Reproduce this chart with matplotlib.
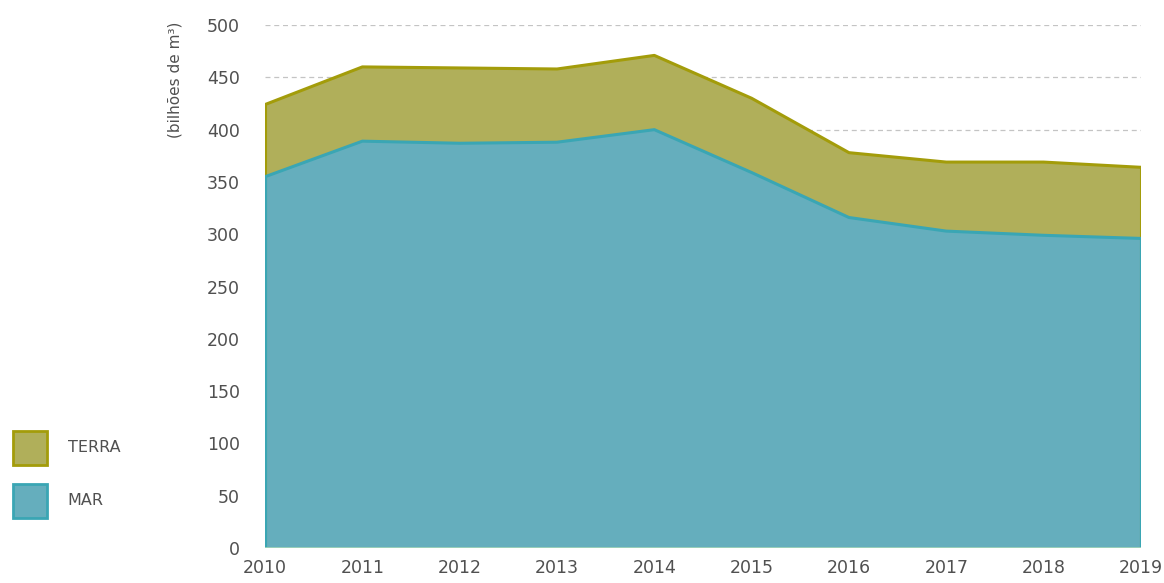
import matplotlib.pyplot as plt
from matplotlib.patches import Rectangle

# Data (bilhões de m³)
years = [2010, 2011, 2012, 2013, 2014, 2015, 2016, 2017, 2018, 2019]
mar = [355, 389, 387, 388, 400, 359, 316, 303, 299, 296]
terra = [69, 71, 72, 70, 71, 71, 62, 66, 70, 68]
yticks = [0, 50, 100, 150, 200, 250, 300, 350, 400, 450, 500]

plt.rcParams['font.family'] = ['DejaVu Sans']
text_color = '#505050'
mar_fill, mar_edge = '#65aebd', '#3aa6b4'
terra_fill, terra_edge = '#b0af5a', '#a39c0a'

fig = plt.figure(figsize=(11.64, 5.83), dpi=100)
ax = fig.add_axes([0.2277, 0.060, 0.7525, 0.897])

top = [m + t for m, t in zip(mar, terra)]
ax.fill_between(years, 0, top, facecolor=terra_fill, edgecolor='none', zorder=2)
ax.fill_between(years, 0, mar, facecolor=mar_fill, edgecolor='none', zorder=3)
ax.plot(years, top, color=terra_edge, lw=2.2, zorder=4)
ax.plot(years, mar, color=mar_edge, lw=2.2, zorder=5)
ax.plot([years[0], years[0]], [0, top[0]], color=terra_edge, lw=2.2, zorder=4)
ax.plot([years[-1], years[-1]], [0, top[-1]], color=terra_edge, lw=2.2, zorder=4)
ax.plot([years[0], years[0]], [0, mar[0]], color=mar_edge, lw=2.2, zorder=5)
ax.plot([years[-1], years[-1]], [0, mar[-1]], color=mar_edge, lw=2.2, zorder=5)
ax.plot([years[0], years[-1]], [0, 0], color='#9fd3b8', lw=2, zorder=6)

ax.set_xlim(years[0], years[-1])
ax.set_ylim(0, 500)
ax.set_xticks(years)
ax.set_yticks(yticks)
ax.grid(axis='y', color='#c4c4c4', linestyle=(0, (4, 3)), lw=0.9, zorder=1)
ax.set_axisbelow(True)
for s in ax.spines.values():
    s.set_visible(False)
ax.tick_params(axis='both', length=0, labelsize=12.5, colors=text_color)
ax.tick_params(axis='y', pad=18)
ax.tick_params(axis='x', pad=8)
ax.set_ylabel('(bilhões de m³)', fontsize=11, color=text_color)
ax.yaxis.set_label_coords(-0.094, 0.895)

# legend at the left
for y0, fc, ec, lab in [(0.203, terra_fill, terra_edge, 'TERRA'),
                        (0.112, mar_fill, mar_edge, 'MAR')]:
    fig.patches.append(Rectangle((0.0112, y0), 0.0292, 0.058, transform=fig.transFigure,
                                 facecolor=fc, edgecolor=ec, lw=2))
    fig.text(0.058, y0 + 0.029, lab, fontsize=11.5, color=text_color, va='center')

plt.savefig('out.png')
